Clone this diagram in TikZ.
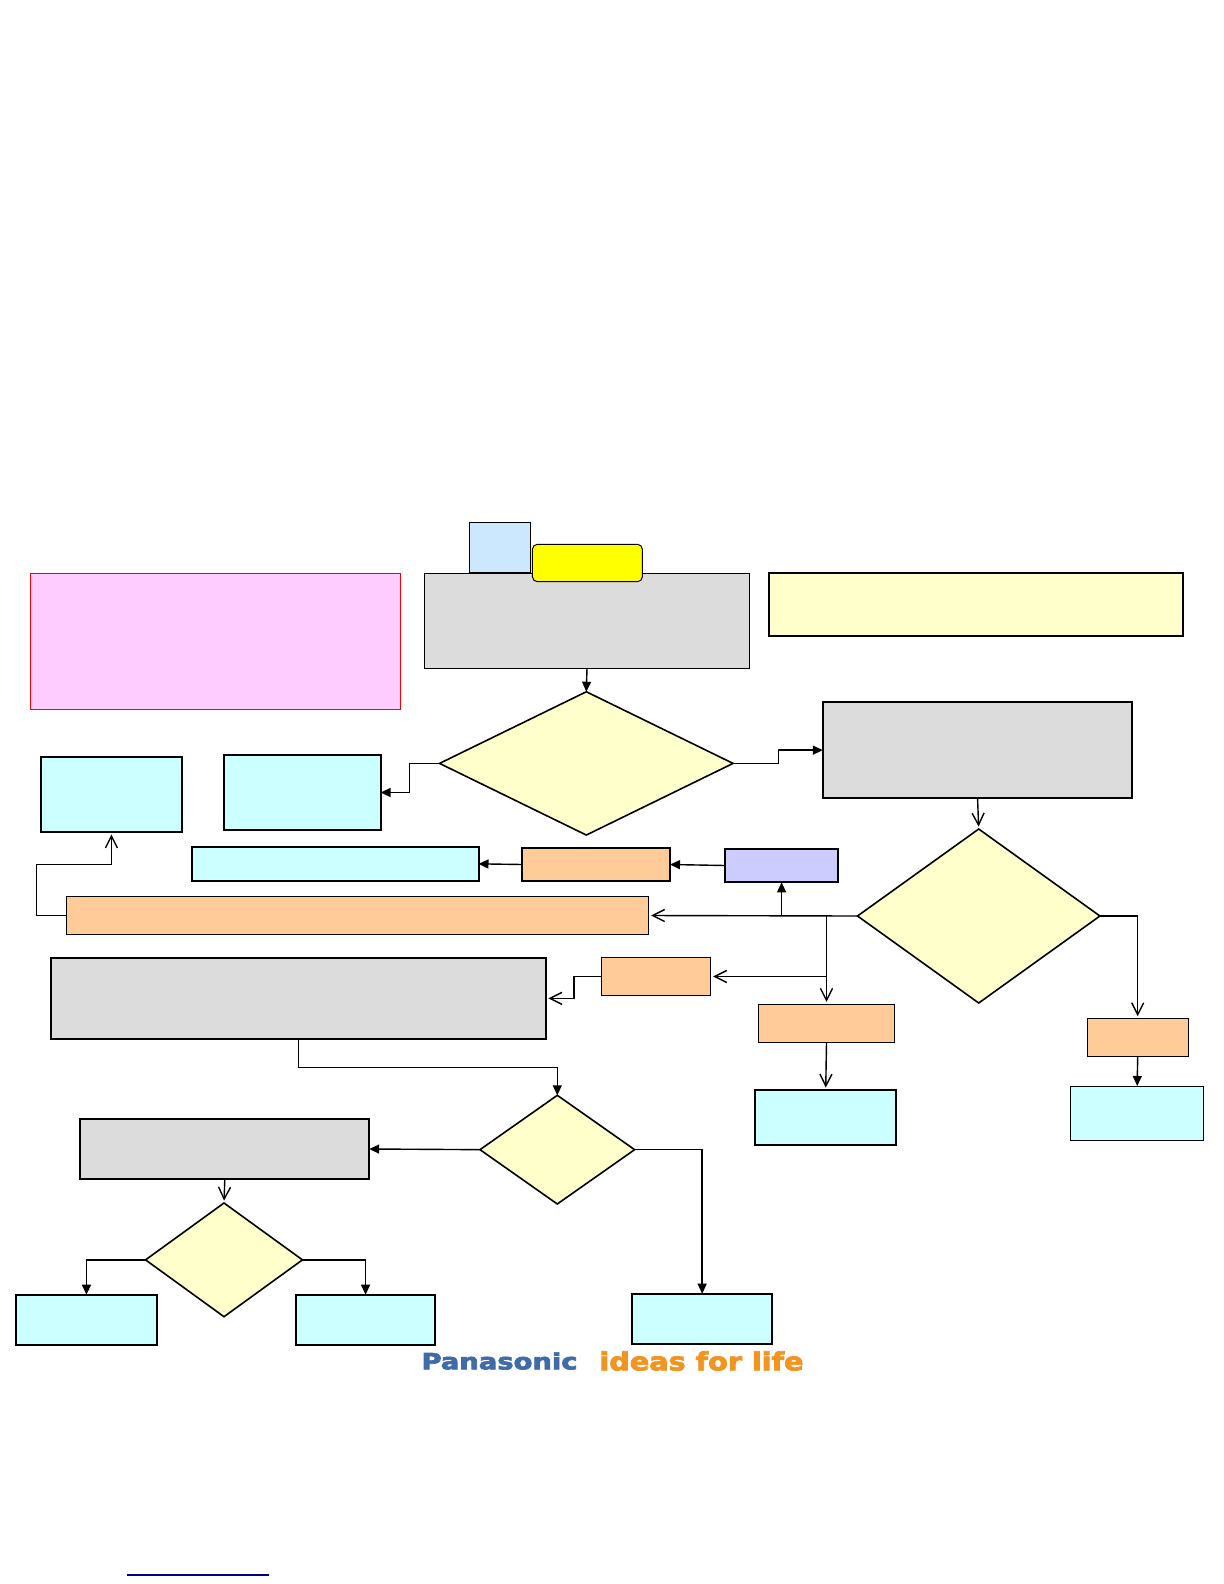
\documentclass[tikz,border=0pt]{standalone}
\usepackage{fontspec}
\usepackage{graphicx}
\newfontfamily\logofont[BoldFeatures={FakeBold=3}]{DejaVu Sans}
\usetikzlibrary{arrows.meta,shapes.geometric}
\definecolor{procgray}{HTML}{DCDCDC}
\definecolor{condyellow}{HTML}{FFFFCC}
\definecolor{rescyan}{HTML}{CCFFFF}
\definecolor{actorange}{HTML}{FFCC99}
\definecolor{notepink}{HTML}{FFCCFF}
\definecolor{tabblue}{HTML}{CCE8FF}
\definecolor{checkblue}{HTML}{CCCCFF}
\definecolor{badgeyellow}{HTML}{FFFF00}
\definecolor{logoblue}{HTML}{3F6CA8}
\definecolor{logoorange}{HTML}{F29420}

\begin{document}
\begin{tikzpicture}[
  x=0.5pt, y=-0.5pt,
  wh/.style 2 args={minimum width=#1*0.5pt, minimum height=#2*0.5pt},
  box/.style={draw, rectangle, inner sep=0pt, outer sep=0pt, line width=0.5pt},
  heavy/.style={line width=1pt},
  proc/.style={box, fill=procgray},
  res/.style={box, fill=rescyan},
  act/.style={box, fill=actorange},
  cond/.style={draw, diamond, fill=condyellow, inner sep=0pt, outer sep=0pt, line width=0.8pt},
  logo/.style={inner sep=0pt, font=\logofont\bfseries},
  solid/.style={-{Triangle[length=5pt,width=4.5pt]}, line width=0.7pt},
  open/.style={-{Straight Barb[length=6pt,width=6pt]}, line width=0.7pt, shorten >=1.2pt}
]
\useasboundingbox (0,0) rectangle (1224,1584);

\node[box, draw=red, fill=notepink, wh={370.1}{136}] (pink) at (215.45,641.3) {};
\node[box, fill=tabblue, wh={60.8}{50.4}] (tab) at (500,547.5) {};
\node[proc, wh={325.5}{95}] (start) at (587,620.8) {};
\node[box, fill=badgeyellow, rounded corners=2.5pt, wh={110}{37.4}] (badge) at (587.4,563) {};
\node[box, heavy, fill=condyellow, wh={414.3}{63}] (note) at (975.65,604.3) {};

\node[cond, wh={293.5}{143.3}] (condA) at (586.3,763.4) {};
\node[proc, heavy, wh={309.5}{95.7}] (procB) at (977.55,750.15) {};
\node[cond, wh={242.4}{174}] (condB) at (978.7,916) {};
\node[res, heavy, wh={141.7}{75}] (resA) at (111.45,794.5) {};
\node[res, heavy, wh={156.2}{75.6}] (resB) at (302.5,792.5) {};
\node[res, heavy, wh={286.1}{34.3}] (resC) at (335.45,863.85) {};
\node[act, heavy, wh={147.8}{33.6}] (actA) at (596.1,864.5) {};
\node[box, heavy, fill=checkblue, wh={113.6}{33.6}] (check) at (781.6,865.5) {};
\node[act, wh={582}{37.6}] (actB) at (357.7,915.5) {};

\node[proc, heavy, wh={495.3}{81.3}] (procC) at (298.35,998.35) {};
\node[act, wh={109.3}{37.6}] (actC) at (656.15,976.5) {};
\node[act, wh={136.2}{38}] (actD) at (826.5,1023.3) {};
\node[res, heavy, wh={141}{55}] (resD) at (825.7,1117.5) {};
\node[act, wh={100.6}{37.6}] (actE) at (1137.7,1037.5) {};
\node[res, wh={133.1}{54.3}] (resE) at (1137.15,1113.15) {};

\node[cond, wh={154.6}{108.7}] (condC) at (557.3,1149.65) {};
\node[proc, heavy, wh={288.8}{60.6}] (procD) at (224.8,1149) {};
\node[cond, wh={156.9}{113.7}] (condD) at (224,1259.85) {};
\node[res, heavy, wh={140.1}{50.3}] (resF) at (86.45,1319.85) {};
\node[res, heavy, wh={139.3}{50.3}] (resG) at (365.55,1319.85) {};
\node[res, heavy, wh={139.7}{50.6}] (resH) at (702.15,1319) {};

\node[logo, text=logoblue] (brand) at (499.5,1361) {\resizebox{78pt}{8.5pt}{Panasonic}};
\node[logo, text=logoorange] (slogan) at (701.5,1361) {\resizebox{102pt}{9.5pt}{ideas for life}};

\coordinate (jointUp) at (check.south |- condB.west);
\coordinate (jointDown) at (actD.north |- condB.west);
\coordinate (jointLeft) at (actD.north |- actC.east);
\coordinate (bendA) at (36.3,864.3);
\coordinate (ruleL) at (127.3,1575);
\coordinate (ruleR) at (268.7,1575);

\draw[solid] (start.south) -- (condA.north);
\draw[solid] (condA.west) -- ++(-30,0) |- (resB.east);
\draw[solid] (condA.east) -- ++(45.3,0) |- (procB.west);
\draw[open] (procB.south) -- (condB.north);
\draw[solid] (actA.west) -- (resC.east);
\draw[solid] (check.west) -- (actA.east);
\draw[open] (condB.west) -- (actB.east);
\draw[solid] (jointUp) -- (check.south);
\draw[open] (jointDown) -- (actD.north);
\draw[open] (jointLeft) -- (actC.east);
\draw[open] (condB.east) -| (actE.north);
\draw[solid] (actE.south) -- (resE.north);
\draw[open] (actD.south) -- (resD.north);
\draw[open] (actB.west) -| (bendA) -| (resA.south);
\draw[open] (actC.west) -- ++(-27.7,0) |- (procC.east);
\draw[solid] (procC.south) -- ++(0,28.7) -| (condC.north);
\draw[solid] (condC.west) -- (procD.east);
\draw[open] (procD.south) -- (condD.north);
\draw[solid] (condC.east) -| (resH.north);
\draw[solid] (condD.west) -| (resF.north);
\draw[solid] (condD.east) -| (resG.north);

\draw[color=blue!50!black, line width=0.6pt] (ruleL) -- (ruleR);

\end{tikzpicture}
\end{document}
